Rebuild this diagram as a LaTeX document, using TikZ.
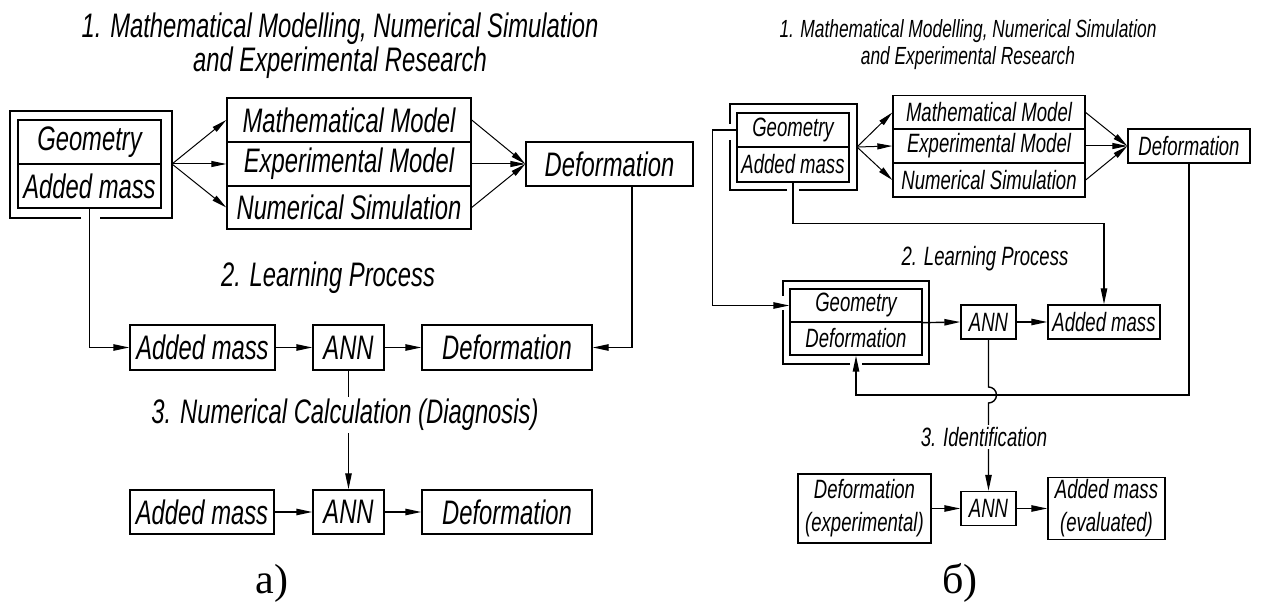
\documentclass[tikz,border=0pt]{standalone}
\usepackage{fontspec}
\setmainfont{Liberation Serif}
\newfontfamily\gost[FakeStretch=0.7]{Liberation Sans}
\usetikzlibrary{arrows.meta}
\begin{document}
\begin{tikzpicture}[x=0.5pt,y=-0.5pt,line width=0.7pt,
  wh/.style 2 args={minimum width={#1*0.5pt},minimum height={#2*0.5pt}},
  lbox/.style={draw,rectangle,inner sep=0pt,font=\gost\itshape\fontsize{17}{20}\selectfont},
  rbox/.style={draw,rectangle,inner sep=0pt,font=\gost\itshape\fontsize{13.25}{16.5}\selectfont},
  llabel/.style={inner sep=1pt,font=\gost\itshape\fontsize{17}{17}\selectfont},
  rlabel/.style={inner sep=1pt,font=\gost\itshape\fontsize{13.25}{16.5}\selectfont},
  rtitle/.style={inner sep=0pt,align=center,font=\gost\itshape\fontsize{12.4}{13.5}\selectfont},
  ltitle/.style={inner sep=0pt,align=center,font=\gost\itshape\fontsize{17}{17}\selectfont},
  arr/.style={-{Triangle[length=8pt,width=3.2pt]}},
  thinarr/.style={line width=0.5pt,-{Triangle[length=7.5pt,width=3pt]}},
  captext/.style={inner sep=0pt,font=\fontsize{21}{24}\selectfont}]
\useasboundingbox (0,0) rectangle (1264,608);

% ---------------- a) ----------------
\node[ltitle] (atitle) at (340,46) {1. Mathematical Modelling, Numerical Simulation\\and Experimental Research};
\node[lbox,wh={143}{44}] (ag) at (89.5,142) {Geometry};
\node[lbox,wh={143}{44}] (aam) at (89.5,186) {Added mass};
\draw (81,218) -- (10,218) -- (10,111) -- (172,111) -- (172,218) -- (100,218);
\coordinate (asrc) at (172,164);
\node[lbox,wh={244}{44}] (amm) at (349,120) {Mathematical Model};
\node[lbox,wh={244}{44}] (aem) at (349,164) {Experimental Model};
\node[lbox,wh={244}{43}] (ans) at (349,207.5) {Numerical Simulation};
\node[lbox,wh={167}{44}] (adef) at (609.5,164) {Deformation};
\foreach \t in {amm,aem,ans}{
  \draw[thinarr] (asrc) -- (\t.west);
  \draw[thinarr] (\t.east) -- (adef.west);
}
\node[llabel] (alp) at (328,278) {2. Learning Process};
\node[lbox,wh={145}{45}] (aam2) at (202.5,347.5) {Added mass};
\node[lbox,wh={71}{45}] (aann) at (348.5,347.5) {ANN};
\node[lbox,wh={170}{45}] (adef2) at (507,347.5) {Deformation};
\draw[arr] (aam.south) |- (aam2.west);
\draw[arr] ([xshift=11.25pt]adef.south) |- (adef2.east);
\draw[arr] (aam2) -- (aann);
\draw[arr] (aann) -- (adef2);
\node[lbox,wh={144}{44}] (aam3) at (202,512) {Added mass};
\node[lbox,wh={71}{44}] (aann3) at (348.5,512) {ANN};
\node[lbox,wh={170}{44}] (adef3) at (507,512) {Deformation};
\draw[arr] (aann) -- (aann3);
\node[llabel,fill=white] (adl) at (345,415) {3. Numerical Calculation (Diagnosis)};
\draw[arr] (aam3) -- (aann3);
\draw[arr] (aann3) -- (adef3);
\node[captext] (capa) at (272,583) {а)};

% ---------------- b) ----------------
\node[rtitle] (btitle) at (968,45) {1. Mathematical Modelling, Numerical Simulation\\and Experimental Research};
\node[rbox,wh={112}{34}] (rg) at (793,130) {Geometry};
\node[rbox,wh={112}{35}] (ram) at (793,164.5) {Added mass};
\draw (730,124) -- (730,104) -- (857,104) -- (857,190) -- (799,190);
\draw (787,190) -- (730,190) -- (730,140);
\coordinate (rsrc) at (857,147);
\node[rbox,wh={192}{34}] (rmm) at (989,112.5) {Mathematical Model};
\node[rbox,wh={192}{34}] (rem) at (989,146) {Experimental Model};
\node[rbox,wh={192}{34}] (rns) at (989,180) {Numerical Simulation};
\node[rbox,wh={122}{34}] (rdef) at (1189,146) {Deformation};
\foreach \t in {rmm,rem,rns}{
  \draw[thinarr] (rsrc) -- (\t.west);
  \draw[thinarr] (\t.east) -- (rdef.west);
}
\node[rlabel] (rlp) at (985,259) {2. Learning Process};
\node[rbox,wh={132}{33}] (rg2) at (856,305.5) {Geometry};
\node[rbox,wh={132}{33}] (rdef2) at (856,338.5) {Deformation};
\draw (783,296) -- (783,281) -- (929,281) -- (929,364) -- (862,364);
\draw (850,364) -- (783,364) -- (783,310);
\node[rbox,wh={55}{34}] (rann) at (988.5,322) {ANN};
\node[rbox,wh={112}{34}] (radd) at (1104,322) {Added mass};
\draw[arr] (rg.west) -- ++(-24,0) |- (rg2.west);
\draw[arr] (ram.south) -- ++(0,41) -| (radd.north);
\draw[arr] (rg2.south east) -- (rann.west);
\draw[arr] (rann) -- (radd);
\coordinate (rj) at (856,395);
\draw[arr] (rdef.south) |- (rj) -- (rdef2.south);
\node[rbox,wh={133}{69},align=center] (idef) at (864.5,508.5) {Deformation\\(experimental)};
\node[rbox,wh={55}{34}] (iann) at (988.5,508.5) {ANN};
\node[rbox,wh={117}{62},align=center] (iadd) at (1106.5,508.5) {Added mass\\(evaluated)};
\draw[arr] (rann.south) -- (988.5,387) arc[start angle=-90,end angle=90,radius=8] -- (iann.north);
\node[rlabel,fill=white] (rid) at (984,437) {3. Identification};
\draw[arr] (idef) -- (iann);
\draw[arr] (iann) -- (iadd);
\node[captext] (capb) at (960,583) {б)};
\end{tikzpicture}
\end{document}
